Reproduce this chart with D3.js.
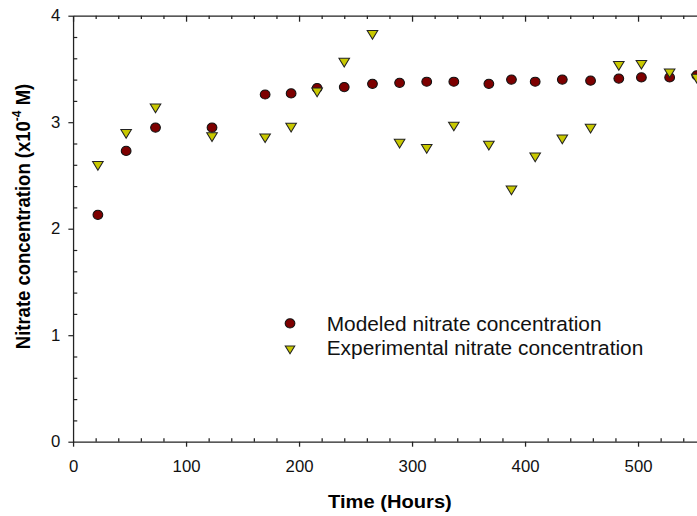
<!DOCTYPE html>
<html>
<head>
<meta charset="utf-8">
<script src="https://cdn.jsdelivr.net/npm/d3@7"></script>
<style>
  body { margin: 0; background: #fff; }
  svg { display: block; font-family: "Liberation Sans", Arial, sans-serif; }
</style>
</head>
<body>
<div id="chart"></div>
<script>

// ======================= //
// DATA
// ======================= //

var hours = [22, 47, 73, 123, 170, 193, 216, 240, 265, 289, 313, 337, 368, 388, 409, 433, 458, 483, 503, 528, 552]
var modeled = [2.13, 2.73, 2.95, 2.95, 3.26, 3.27, 3.32, 3.33, 3.36, 3.37, 3.38, 3.38, 3.36, 3.40, 3.38, 3.40, 3.39, 3.41, 3.42, 3.42, 3.44]
var experimental = [2.59, 2.89, 3.13, 2.86, 2.85, 2.95, 3.28, 3.56, 3.82, 2.80, 2.75, 2.96, 2.78, 2.36, 2.67, 2.84, 2.94, 3.53, 3.54, 3.46, 3.41]
var xMajor = [0, 100, 200, 300, 400, 500]
var yMajor = [0, 1, 2, 3, 4]
var legendLabels = ["Modeled nitrate concentration", "Experimental nitrate concentration"]

// ======================= //
// SVG AREA
// ======================= //

// the original figure is a bit stretched sideways, so the viewBox is squeezed
var W = 697, H = 516, stretch = 1.06
var margin = {top: 15.7, left: 68.9}
var width = 639.6, height = 426

var svg = d3.select("#chart")
  .append("svg")
    .attr("width", W)
    .attr("height", H)
    .attr("viewBox", "0 0 " + (W / stretch) + " " + H)
    .attr("preserveAspectRatio", "none")
  .append("g")
    .attr("transform", "translate(" + margin.left + "," + margin.top + ")")

var x = d3.scaleLinear().domain([0, 600]).range([0, width])
var y = d3.scaleLinear().domain([0, 4]).range([height, 0])

var xMinor = d3.range(0, 601, 20).filter(function(d){ return d % 100 != 0 })
var yMinor = d3.range(0, 4.01, 0.2).map(function(d){ return +d.toFixed(1) }).filter(function(d){ return d % 1 != 0 })

// ======================= //
// AXES
// ======================= //

function styleAxis(g) {
  g.selectAll("path, line").attr("stroke", "#222").attr("stroke-width", 1.2)
  g.selectAll("text").style("font-size", "15.8px").attr("fill", "#111")
}

// bottom: major outward, minor inward
svg.append("g")
  .attr("transform", "translate(0," + height + ")")
  .call(d3.axisBottom(x).tickValues(xMajor).tickSizeInner(5).tickSizeOuter(0).tickPadding(14).tickFormat(d3.format("d")))
  .call(styleAxis)
svg.append("g")
  .attr("transform", "translate(0," + height + ")")
  .call(d3.axisBottom(x).tickValues(xMinor).tickSizeInner(-3.4).tickSizeOuter(0).tickFormat(""))
  .call(styleAxis)
  .call(function(g){ g.select(".domain").remove() })

// left: major outward, minor inward
svg.append("g")
  .call(d3.axisLeft(y).tickValues(yMajor).tickSizeInner(4.4).tickSizeOuter(0).tickPadding(7.6).tickFormat(d3.format("d")))
  .call(styleAxis)
svg.append("g")
  .call(d3.axisLeft(y).tickValues(yMinor).tickSizeInner(-4).tickSizeOuter(0).tickFormat(""))
  .call(styleAxis)
  .call(function(g){ g.select(".domain").remove() })

// top: all ticks pointing down
svg.append("g")
  .call(d3.axisTop(x).tickValues(xMajor).tickSizeInner(-6).tickSizeOuter(0).tickFormat(""))
  .call(styleAxis)
svg.append("g")
  .call(d3.axisTop(x).tickValues(xMinor).tickSizeInner(-3.4).tickSizeOuter(0).tickFormat(""))
  .call(styleAxis)
  .call(function(g){ g.select(".domain").remove() })

// X label
svg.append("text")
  .attr("x", 367.9 - margin.left)
  .attr("y", 508.3 - margin.top)
  .attr("text-anchor", "middle")
  .style("font-size", "19px")
  .style("font-weight", "bold")
  .text("Time (Hours)")

// Y label
var yLab = svg.append("text")
  .attr("transform", "translate(" + (28 - margin.left) + "," + (216.5 - margin.top) + ") rotate(-90)")
  .attr("text-anchor", "middle")
  .style("font-size", "18.5px")
  .style("font-weight", "bold")
yLab.append("tspan").text("Nitrate concentration (x10")
yLab.append("tspan").attr("dy", -8).style("font-size", "12px").text("-4")
yLab.append("tspan").attr("dy", 8).text(" M)")

// ======================= //
// POINTS
// ======================= //

var triangle = "M-5,-4.3 L5,-4.3 L0,4.4 Z"

svg.append("g")
  .selectAll("circle")
  .data(hours)
  .enter()
  .append("circle")
    .attr("cx", function(d){ return x(d) })
    .attr("cy", function(d, i){ return y(modeled[i]) })
    .attr("r", 4.6)
    .style("fill", "#7d0000")
    .attr("stroke", "#111")
    .attr("stroke-width", 1)

svg.append("g")
  .selectAll("path")
  .data(hours)
  .enter()
  .append("path")
    .attr("d", triangle)
    .attr("transform", function(d, i){ return "translate(" + x(d) + "," + y(experimental[i]) + ")" })
    .style("fill", "#c8c800")
    .attr("stroke", "#222")
    .attr("stroke-width", 1)

// ======================= //
// LEGEND
// ======================= //

var legend = svg.append("g").attr("transform", "translate(" + (273.6 - margin.left) + "," + (323.3 - margin.top) + ")")
legend.append("circle").attr("r", 4.6).style("fill", "#7d0000").attr("stroke", "#111")
legend.append("path").attr("d", "M-4.5,-3.8 L4.5,-3.8 L0,4 Z").attr("transform", "translate(0,26.5)")
  .style("fill", "#c8c800").attr("stroke", "#222")
legend.selectAll("text")
  .data(legendLabels)
  .enter()
  .append("text")
    .attr("x", 308.2 - 273.6)
    .attr("y", function(d, i){ return 7.4 + i * 24.3 })
    .style("font-size", "19.7px")
    .attr("fill", "#111")
    .text(function(d){ return d })

</script>
</body>
</html>
